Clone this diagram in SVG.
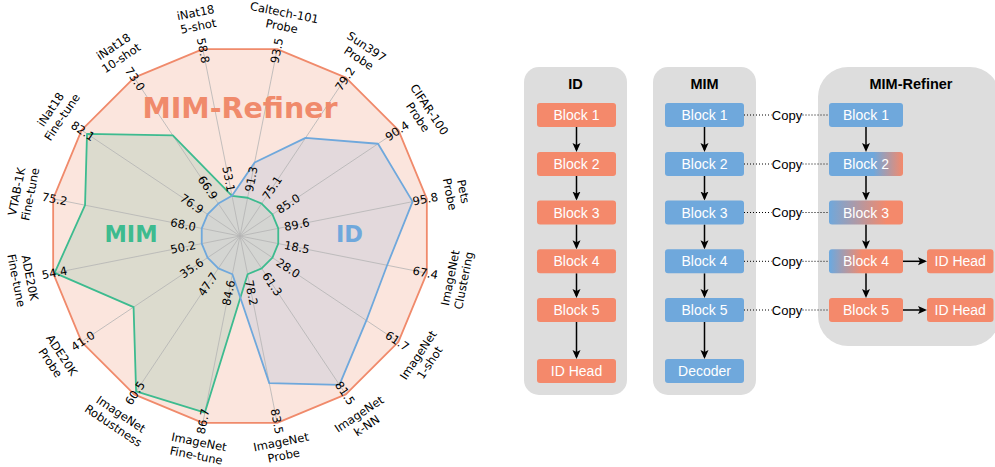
<svg xmlns="http://www.w3.org/2000/svg" width="995" height="467" viewBox="0 0 995 467">
<defs>
<style>
.v{font-family:"DejaVu Sans",sans-serif;font-size:11.5px;text-anchor:middle;fill:#000}
.c{font-family:"DejaVu Sans",sans-serif;font-size:11.5px;text-anchor:middle;fill:#000}
.big{font-family:"DejaVu Sans",sans-serif;font-weight:bold;text-anchor:middle}
.spoke{stroke:#b4b4b4;stroke-width:0.8;fill:none}
.panel{fill:#dddddd}
.title{font-family:"Liberation Sans",Arial,sans-serif;font-weight:bold;font-size:14.5px;text-anchor:middle;fill:#000}
.bt{font-family:"Liberation Sans",Arial,sans-serif;font-size:14px;text-anchor:middle;fill:#fff}
.or{fill:#F4896B}
.bl{fill:#6FA8DC}
.arr{stroke:#000;stroke-width:1.5;fill:none;marker-end:url(#ah)}
.dot{stroke:#000;stroke-width:1;stroke-dasharray:1 2;fill:none}
.cp{font-family:"Liberation Sans",Arial,sans-serif;font-size:13px;text-anchor:middle;fill:#000}
</style>
<marker id="ah" markerUnits="userSpaceOnUse" markerWidth="12" markerHeight="10" refX="7" refY="4" orient="auto">
<path d="M0,0 L9,4 L0,8 L2,4 Z" fill="#000"/>
</marker>
<linearGradient id="g2" x1="0" y1="0" x2="1" y2="0">
<stop offset="0.6" stop-color="#6FA8DC"/><stop offset="1" stop-color="#F4896B"/>
</linearGradient>
<linearGradient id="g3" x1="0" y1="0" x2="1" y2="0">
<stop offset="0" stop-color="#6FA8DC"/><stop offset="0.78" stop-color="#F4896B"/>
</linearGradient>
<linearGradient id="g4" x1="0" y1="0" x2="1" y2="0">
<stop offset="0.02" stop-color="#6FA8DC"/><stop offset="0.45" stop-color="#F4896B"/>
</linearGradient>
<clipPath id="greenClip">
<polygon points="247.61,197.75 261.67,203.57 272.43,214.33 278.25,228.39 278.25,243.61 272.43,257.67 261.67,268.43 247.61,274.25 204.88,412.54 136.11,391.48 133.57,307.11 54.63,272.87 85.04,205.18 87.01,133.78 172.78,135.39 232.00,195.79"/>
</clipPath>
</defs>

<g id="radar">
<polygon id="refiner-area" points="277.17,49.16 345.84,77.60 398.40,130.16 426.84,198.83 426.84,273.17 398.40,341.84 345.84,394.40 277.17,422.84 202.83,422.84 134.16,394.40 81.60,341.84 53.16,273.17 53.16,198.83 81.60,130.16 134.16,77.60 202.83,49.16" fill="#FBE5DD"/>
<polygon id="mim-area" points="247.61,197.75 261.67,203.57 272.43,214.33 278.25,228.39 278.25,243.61 272.43,257.67 261.67,268.43 247.61,274.25 204.88,412.54 136.11,391.48 133.57,307.11 54.63,272.87 85.04,205.18 87.01,133.78 172.78,135.39 232.00,195.79" fill="#DCDBCE"/>
<polygon id="id-area" points="254.63,162.44 305.56,137.89 378.02,143.77 412.62,201.66 387.12,265.26 366.38,320.45 339.45,384.83 269.26,383.12 232.39,274.25 218.33,268.43 207.57,257.67 201.75,243.61 201.75,228.39 207.57,214.33 218.33,203.57 232.00,195.79" fill="#E3D9DC"/>
<polygon id="overlap" clip-path="url(#greenClip)" points="254.63,162.44 305.56,137.89 378.02,143.77 412.62,201.66 387.12,265.26 366.38,320.45 339.45,384.83 269.26,383.12 232.39,274.25 218.33,268.43 207.57,257.67 201.75,243.61 201.75,228.39 207.57,214.33 218.33,203.57 232.00,195.79" fill="#D4D5D2"/>

<path class="spoke" d="M240,236L277.17,49.16M240,236L345.84,77.60M240,236L398.40,130.16M240,236L426.84,198.83M240,236L426.84,273.17M240,236L398.40,341.84M240,236L345.84,394.40M240,236L277.17,422.84M240,236L202.83,422.84M240,236L134.16,394.40M240,236L81.60,341.84M240,236L53.16,273.17M240,236L53.16,198.83M240,236L81.60,130.16M240,236L134.16,77.60M240,236L202.83,49.16"/>

<polygon points="277.17,49.16 345.84,77.60 398.40,130.16 426.84,198.83 426.84,273.17 398.40,341.84 345.84,394.40 277.17,422.84 202.83,422.84 134.16,394.40 81.60,341.84 53.16,273.17 53.16,198.83 81.60,130.16 134.16,77.60 202.83,49.16" fill="none" stroke="#F08A6B" stroke-width="1.8" stroke-linejoin="round"/>
<polygon points="247.61,197.75 261.67,203.57 272.43,214.33 278.25,228.39 278.25,243.61 272.43,257.67 261.67,268.43 247.61,274.25 204.88,412.54 136.11,391.48 133.57,307.11 54.63,272.87 85.04,205.18 87.01,133.78 172.78,135.39 232.00,195.79" fill="none" stroke="#3DBB8F" stroke-width="1.8" stroke-linejoin="round"/>
<polygon points="254.63,162.44 305.56,137.89 378.02,143.77 412.62,201.66 387.12,265.26 366.38,320.45 339.45,384.83 269.26,383.12 232.39,274.25 218.33,268.43 207.57,257.67 201.75,243.61 201.75,228.39 207.57,214.33 218.33,203.57 232.00,195.79" fill="none" stroke="#6FA8DC" stroke-width="1.8" stroke-linejoin="round"/>

<text class="big" x="240" y="118.3" font-size="28.5" fill="#F08A6B">MIM-Refiner</text>
<text class="big" x="131" y="241.7" font-size="22.5" fill="#3DBB8F">MIM</text>
<text class="big" x="349.5" y="241.7" font-size="22.5" fill="#6FA8DC">ID</text>

<g id="outer-values">
<text class="v" transform="translate(276.87,50.63) rotate(-78.75)" y="4">93.5</text>
<text class="v" transform="translate(345.00,78.85) rotate(-56.25)" y="4">79.2</text>
<text class="v" transform="translate(397.15,131.00) rotate(-33.75)" y="4">90.4</text>
<text class="v" transform="translate(425.37,199.13) rotate(-11.25)" y="4">95.8</text>
<text class="v" transform="translate(425.37,272.87) rotate(11.25)" y="4">67.4</text>
<text class="v" transform="translate(397.15,341.00) rotate(33.75)" y="4">61.7</text>
<text class="v" transform="translate(345.00,393.15) rotate(56.25)" y="4">81.5</text>
<text class="v" transform="translate(276.87,421.37) rotate(78.75)" y="4">83.5</text>
<text class="v" transform="translate(203.13,421.37) rotate(-78.75)" y="4">86.7</text>
<text class="v" transform="translate(135.00,393.15) rotate(-56.25)" y="4">60.5</text>
<text class="v" transform="translate(82.85,341.00) rotate(-33.75)" y="4">41.0</text>
<text class="v" transform="translate(54.63,272.87) rotate(-11.25)" y="4">54.4</text>
<text class="v" transform="translate(54.63,199.13) rotate(11.25)" y="4">75.2</text>
<text class="v" transform="translate(82.85,131.00) rotate(33.75)" y="4">82.1</text>
<text class="v" transform="translate(135.00,78.85) rotate(56.25)" y="4">73.0</text>
<text class="v" transform="translate(203.13,50.63) rotate(78.75)" y="4">58.8</text>
</g>
<g id="inner-values">
<text class="v" transform="translate(251.32,179.11) rotate(-78.75)" y="4">91.3</text>
<text class="v" transform="translate(272.22,187.77) rotate(-56.25)" y="4">75.1</text>
<text class="v" transform="translate(288.23,203.78) rotate(-33.75)" y="4">85.0</text>
<text class="v" transform="translate(296.89,224.68) rotate(-11.25)" y="4">89.6</text>
<text class="v" transform="translate(296.89,247.32) rotate(11.25)" y="4">18.5</text>
<text class="v" transform="translate(288.23,268.22) rotate(33.75)" y="4">28.0</text>
<text class="v" transform="translate(272.22,284.23) rotate(56.25)" y="4">61.3</text>
<text class="v" transform="translate(251.32,292.89) rotate(78.75)" y="4">78.2</text>
<text class="v" transform="translate(228.68,292.89) rotate(-78.75)" y="4">84.6</text>
<text class="v" transform="translate(207.78,284.23) rotate(-56.25)" y="4">47.7</text>
<text class="v" transform="translate(191.77,268.22) rotate(-33.75)" y="4">35.6</text>
<text class="v" transform="translate(183.11,247.32) rotate(-11.25)" y="4">50.2</text>
<text class="v" transform="translate(183.11,224.68) rotate(11.25)" y="4">68.0</text>
<text class="v" transform="translate(191.77,203.78) rotate(33.75)" y="4">76.9</text>
<text class="v" transform="translate(207.78,187.77) rotate(56.25)" y="4">66.9</text>
<text class="v" transform="translate(228.68,179.11) rotate(78.75)" y="4">53.1</text>
</g>
<g id="axis-labels">
<text class="c" transform="translate(283.11,19.25) rotate(11.25)"><tspan x="0" y="-2.7">Caltech-101</tspan><tspan x="0" y="11.1">Probe</tspan></text>
<text class="c" transform="translate(362.78,52.25) rotate(33.75)"><tspan x="0" y="-2.7">Sun397</tspan><tspan x="0" y="11.1">Probe</tspan></text>
<text class="c" transform="translate(423.75,113.22) rotate(56.25)"><tspan x="0" y="-2.7">CIFAR-100</tspan><tspan x="0" y="11.1">Probe</tspan></text>
<text class="c" transform="translate(456.75,192.89) rotate(78.75)"><tspan x="0" y="-2.7">Pets</tspan><tspan x="0" y="11.1">Probe</tspan></text>
<text class="c" transform="translate(456.75,279.11) rotate(-78.75)"><tspan x="0" y="-2.7">ImageNet</tspan><tspan x="0" y="11.1">Clustering</tspan></text>
<text class="c" transform="translate(423.75,358.78) rotate(-56.25)"><tspan x="0" y="-2.7">ImageNet</tspan><tspan x="0" y="11.1">1-shot</tspan></text>
<text class="c" transform="translate(362.78,419.75) rotate(-33.75)"><tspan x="0" y="-2.7">ImageNet</tspan><tspan x="0" y="11.1">k-NN</tspan></text>
<text class="c" transform="translate(282.33,448.6) rotate(-11.25)"><tspan x="0" y="-2.7">ImageNet</tspan><tspan x="0" y="11.1">Probe</tspan></text>
<text class="c" transform="translate(197.67,448.6) rotate(11.25)"><tspan x="0" y="-2.7">ImageNet</tspan><tspan x="0" y="11.1">Fine-tune</tspan></text>
<text class="c" transform="translate(117.22,419.75) rotate(33.75)"><tspan x="0" y="-2.7">ImageNet</tspan><tspan x="0" y="11.1">Robustness</tspan></text>
<text class="c" transform="translate(56.25,358.78) rotate(56.25)"><tspan x="0" y="-2.7">ADE20K</tspan><tspan x="0" y="11.1">Probe</tspan></text>
<text class="c" transform="translate(23.25,279.11) rotate(78.75)"><tspan x="0" y="-2.7">ADE20K</tspan><tspan x="0" y="11.1">Fine-tune</tspan></text>
<text class="c" transform="translate(23.25,192.89) rotate(-78.75)"><tspan x="0" y="-2.7">VTAB-1K</tspan><tspan x="0" y="11.1">Fine-tune</tspan></text>
<text class="c" transform="translate(56.25,113.22) rotate(-56.25)"><tspan x="0" y="-2.7">iNat18</tspan><tspan x="0" y="11.1">Fine-tune</tspan></text>
<text class="c" transform="translate(117.22,52.25) rotate(-33.75)"><tspan x="0" y="-2.7">iNat18</tspan><tspan x="0" y="11.1">10-shot</tspan></text>
<text class="c" transform="translate(196.89,19.25) rotate(-11.25)"><tspan x="0" y="-2.7">iNat18</tspan><tspan x="0" y="11.1">5-shot</tspan></text>
</g>
</g>

<g id="panels">
<g id="panel-id"><rect class="panel" x="524" y="67" width="103" height="328" rx="15"/><text class="title" x="575.5" y="89">ID</text></g>
<g id="panel-mim"><rect class="panel" x="653" y="67" width="103" height="328" rx="15"/><text class="title" x="704.5" y="89">MIM</text></g>
<g id="panel-refiner"><rect class="panel" x="818" y="67" width="182" height="279" rx="30"/><text class="title" x="911" y="89">MIM-Refiner</text></g>
</g>

<g id="connectors">
<line class="arr" x1="576.5" y1="127" x2="576.5" y2="150"/>
<line class="arr" x1="576.5" y1="176" x2="576.5" y2="198.5"/>
<line class="arr" x1="576.5" y1="224.5" x2="576.5" y2="247.3"/>
<line class="arr" x1="576.5" y1="273.3" x2="576.5" y2="296"/>
<line class="arr" x1="576.5" y1="322" x2="576.5" y2="357"/>
<line class="arr" x1="704.5" y1="127" x2="704.5" y2="150"/>
<line class="arr" x1="704.5" y1="176" x2="704.5" y2="198.5"/>
<line class="arr" x1="704.5" y1="224.5" x2="704.5" y2="247.3"/>
<line class="arr" x1="704.5" y1="273.3" x2="704.5" y2="296"/>
<line class="arr" x1="704.5" y1="322" x2="704.5" y2="357"/>
<line class="arr" x1="866" y1="127" x2="866" y2="150"/>
<line class="arr" x1="866" y1="176" x2="866" y2="198.5"/>
<line class="arr" x1="866" y1="224.5" x2="866" y2="247.3"/>
<line class="arr" x1="866" y1="273.3" x2="866" y2="296"/>
<line class="arr" x1="903" y1="261.3" x2="925" y2="261.3"/>
<line class="arr" x1="903" y1="310" x2="925" y2="310"/>
<path class="dot" d="M744,115H771.5M802.5,115H829M744,164H771.5M802.5,164H829M744,212.5H771.5M802.5,212.5H829M744,261.3H771.5M802.5,261.3H829M744,310H771.5M802.5,310H829"/>
<text class="cp" x="787" y="119.6">Copy</text>
<text class="cp" x="787" y="168.6">Copy</text>
<text class="cp" x="787" y="217.1">Copy</text>
<text class="cp" x="787" y="265.9">Copy</text>
<text class="cp" x="787" y="314.6">Copy</text>
</g>

<g id="id-column">
<g id="id-b1"><rect class="or" x="537" y="103" width="79" height="24" rx="3"/><text class="bt" x="576.5" y="120">Block 1</text></g>
<g id="id-b2"><rect class="or" x="537" y="152" width="79" height="24" rx="3"/><text class="bt" x="576.5" y="169">Block 2</text></g>
<g id="id-b3"><rect class="or" x="537" y="200.5" width="79" height="24" rx="3"/><text class="bt" x="576.5" y="217.5">Block 3</text></g>
<g id="id-b4"><rect class="or" x="537" y="249.3" width="79" height="24" rx="3"/><text class="bt" x="576.5" y="266.3">Block 4</text></g>
<g id="id-b5"><rect class="or" x="537" y="298" width="79" height="24" rx="3"/><text class="bt" x="576.5" y="315">Block 5</text></g>
<g id="id-head"><rect class="or" x="537" y="359" width="79" height="24" rx="3"/><text class="bt" x="576.5" y="376">ID Head</text></g>
</g>
<g id="mim-column">
<g id="mim-b1"><rect class="bl" x="665" y="103" width="79" height="24" rx="3"/><text class="bt" x="704.5" y="120">Block 1</text></g>
<g id="mim-b2"><rect class="bl" x="665" y="152" width="79" height="24" rx="3"/><text class="bt" x="704.5" y="169">Block 2</text></g>
<g id="mim-b3"><rect class="bl" x="665" y="200.5" width="79" height="24" rx="3"/><text class="bt" x="704.5" y="217.5">Block 3</text></g>
<g id="mim-b4"><rect class="bl" x="665" y="249.3" width="79" height="24" rx="3"/><text class="bt" x="704.5" y="266.3">Block 4</text></g>
<g id="mim-b5"><rect class="bl" x="665" y="298" width="79" height="24" rx="3"/><text class="bt" x="704.5" y="315">Block 5</text></g>
<g id="mim-decoder"><rect class="bl" x="665" y="359" width="79" height="24" rx="3"/><text class="bt" x="704.5" y="376">Decoder</text></g>
</g>
<g id="refiner-column">
<g id="ref-b1"><rect class="bl" x="829" y="103" width="74" height="24" rx="3"/><text class="bt" x="866" y="120">Block 1</text></g>
<g id="ref-b2"><rect fill="url(#g2)" x="829" y="152" width="74" height="24" rx="3"/><text class="bt" x="866" y="169">Block 2</text></g>
<g id="ref-b3"><rect fill="url(#g3)" x="829" y="200.5" width="74" height="24" rx="3"/><text class="bt" x="866" y="217.5">Block 3</text></g>
<g id="ref-b4"><rect fill="url(#g4)" x="829" y="249.3" width="74" height="24" rx="3"/><text class="bt" x="866" y="266.3">Block 4</text></g>
<g id="ref-b5"><rect class="or" x="829" y="298" width="74" height="24" rx="3"/><text class="bt" x="866" y="315">Block 5</text></g>
<g id="ref-head4"><rect class="or" x="927" y="249.3" width="66.5" height="24" rx="3"/><text class="bt" x="960.2" y="266.3">ID Head</text></g>
<g id="ref-head5"><rect class="or" x="927" y="298" width="66.5" height="24" rx="3"/><text class="bt" x="960.2" y="315">ID Head</text></g>
</g>
</svg>
